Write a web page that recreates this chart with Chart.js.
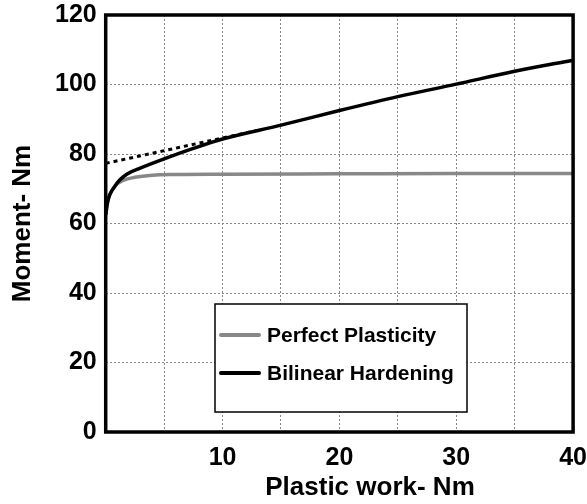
<!DOCTYPE html>
<html>
<head>
<meta charset="utf-8">
<script src="https://cdn.jsdelivr.net/npm/chart.js@4/dist/chart.umd.min.js"></script>
<style>
    body { margin: 0; background: #fff; }
    canvas { display: block; }
</style>
</head>
<body>
<canvas id="momentChart" width="587" height="504"></canvas>
<script>
// datos
const workPerfect = [0, 0.15, 0.35, 0.8, 1.5, 2.5, 4, 6, 10, 20, 30, 40];
const momentPerfect = [62.5, 66, 68.3, 70.8, 72.4, 73.3, 73.9, 74.1, 74.2, 74.3, 74.4, 74.4];
const workBilinear = [0, 0.15, 0.35, 0.8, 1.2, 1.8, 3, 5, 7.5, 10, 15, 20, 25, 30, 35, 40];
const momentBilinear = [62.5, 66, 68.3, 70.8, 72.5, 74.2, 76, 78.6, 81.6, 84.3, 88.3, 92.5, 96.5, 100.1, 103.8, 107];
const workTangent = [0, 13];
const momentTangent = [77.3, 86.8];
const xTicks = [10, 20, 30, 40];
const yTicks = [0, 20, 40, 60, 80, 100, 120];
const seriesLabels = ["Perfect Plasticity", "Bilinear Hardening"];
const xTitle = "Plastic work- Nm";
const yTitle = "Moment- Nm";

const toPoints = (xs, ys) => xs.map((x, i) => ({ x: x, y: ys[i] }));

const FONT = "'Liberation Sans', Arial, sans-serif";
const GRAY = "#888888";
const NONE = "rgba(0,0,0,0)";

// marco negro alrededor del area del grafico
const frame = {
    id: "frame",
    afterDatasetsDraw(chart) {
        const a = chart.chartArea;
        const ctx = chart.ctx;
        ctx.save();
        ctx.strokeStyle = "#000";
        ctx.lineWidth = 3.5;
        ctx.strokeRect(a.left, a.top, a.right - a.left, a.bottom - a.top);
        ctx.restore();
    },
};

// titulo del eje x (desplazado a la derecha como en la figura)
const xAxisTitle = {
    id: "xAxisTitle",
    afterDraw(chart) {
        const ctx = chart.ctx;
        ctx.save();
        ctx.fillStyle = "#000";
        ctx.font = "bold 26px " + FONT;
        ctx.textAlign = "center";
        ctx.textBaseline = "alphabetic";
        ctx.fillText(xTitle, 370, 495);
        ctx.restore();
    },
};

// leyenda en recuadro dentro del grafico
const boxLegend = {
    id: "boxLegend",
    afterDraw(chart) {
        const ctx = chart.ctx;
        const items = [
            { text: seriesLabels[0], color: GRAY },
            { text: seriesLabels[1], color: "#000" },
        ];
        ctx.save();
        ctx.fillStyle = "#fff";
        ctx.fillRect(215, 304, 252, 108);
        ctx.strokeStyle = "#000";
        ctx.lineWidth = 1.5;
        ctx.strokeRect(215, 304, 252, 108);
        items.forEach((it, i) => {
            const y = 335 + i * 38;
            ctx.strokeStyle = it.color;
            ctx.lineWidth = 4;
            ctx.lineCap = "round";
            ctx.beginPath();
            ctx.moveTo(221, y);
            ctx.lineTo(259, y);
            ctx.stroke();
            ctx.fillStyle = "#000";
            ctx.font = "bold 21px " + FONT;
            ctx.textBaseline = "middle";
            ctx.fillText(it.text, 267, y + 1);
        });
        ctx.restore();
    },
};

const ctx = document.getElementById("momentChart").getContext("2d");
const chart = new Chart(ctx, {
    type: "scatter",
    data: {
        datasets: [
            {
                label: seriesLabels[1],
                data: toPoints(workBilinear, momentBilinear),
                showLine: true,
                borderColor: "#000",
                borderWidth: 3.5,
                pointRadius: 0,
                cubicInterpolationMode: "monotone",
            },
            {
                label: "tangent",
                data: toPoints(workTangent, momentTangent),
                showLine: true,
                borderColor: "#000",
                borderWidth: 3,
                borderDash: [4, 4],
                pointRadius: 0,
            },
            {
                label: seriesLabels[0],
                data: toPoints(workPerfect, momentPerfect),
                showLine: true,
                borderColor: GRAY,
                borderWidth: 3.5,
                pointRadius: 0,
                cubicInterpolationMode: "monotone",
            },
        ],
    },
    options: {
        responsive: false,
        animation: false,
        layout: { padding: { left: 10, top: 15, right: 0, bottom: 33 } },
        plugins: {
            legend: { display: false },
            tooltip: { enabled: false },
        },
        scales: {
            x: {
                type: "linear",
                min: 0,
                max: 40,
                border: { display: false, dash: [2, 2] },
                grid: {
                    drawTicks: true,
                    tickLength: 14,
                    tickColor: NONE,
                    color: (c) => (c.tick.value === 0 || c.tick.value === 40 ? NONE : GRAY),
                    lineWidth: 1,
                },
                ticks: {
                    stepSize: 5,
                    padding: 0,
                    color: "#000",
                    font: { family: FONT, size: 25, weight: "bold", lineHeight: 1 },
                    maxRotation: 0,
                    autoSkip: false,
                    callback: (v) => (xTicks.includes(v) ? v : ""),
                },
                title: { display: false },
            },
            y: {
                min: 0,
                max: 120,
                border: { display: false, dash: [2, 2] },
                grid: {
                    drawTicks: true,
                    tickLength: 9,
                    tickColor: NONE,
                    color: (c) => (c.tick.value === 0 || c.tick.value === 120 ? NONE : GRAY),
                    lineWidth: 1,
                },
                ticks: {
                    stepSize: 20,
                    padding: 0,
                    color: "#000",
                    font: { family: FONT, size: 25, weight: "bold", lineHeight: 1 },
                    callback: (v) => (yTicks.includes(v) ? v : ""),
                },
                title: {
                    display: true,
                    text: yTitle,
                    color: "#000",
                    font: { family: FONT, size: 26, weight: "bold", lineHeight: 1 },
                    padding: { top: 0, bottom: 19 },
                },
            },
        },
    },
    plugins: [frame, xAxisTitle, boxLegend],
});
</script>
</body>
</html>
